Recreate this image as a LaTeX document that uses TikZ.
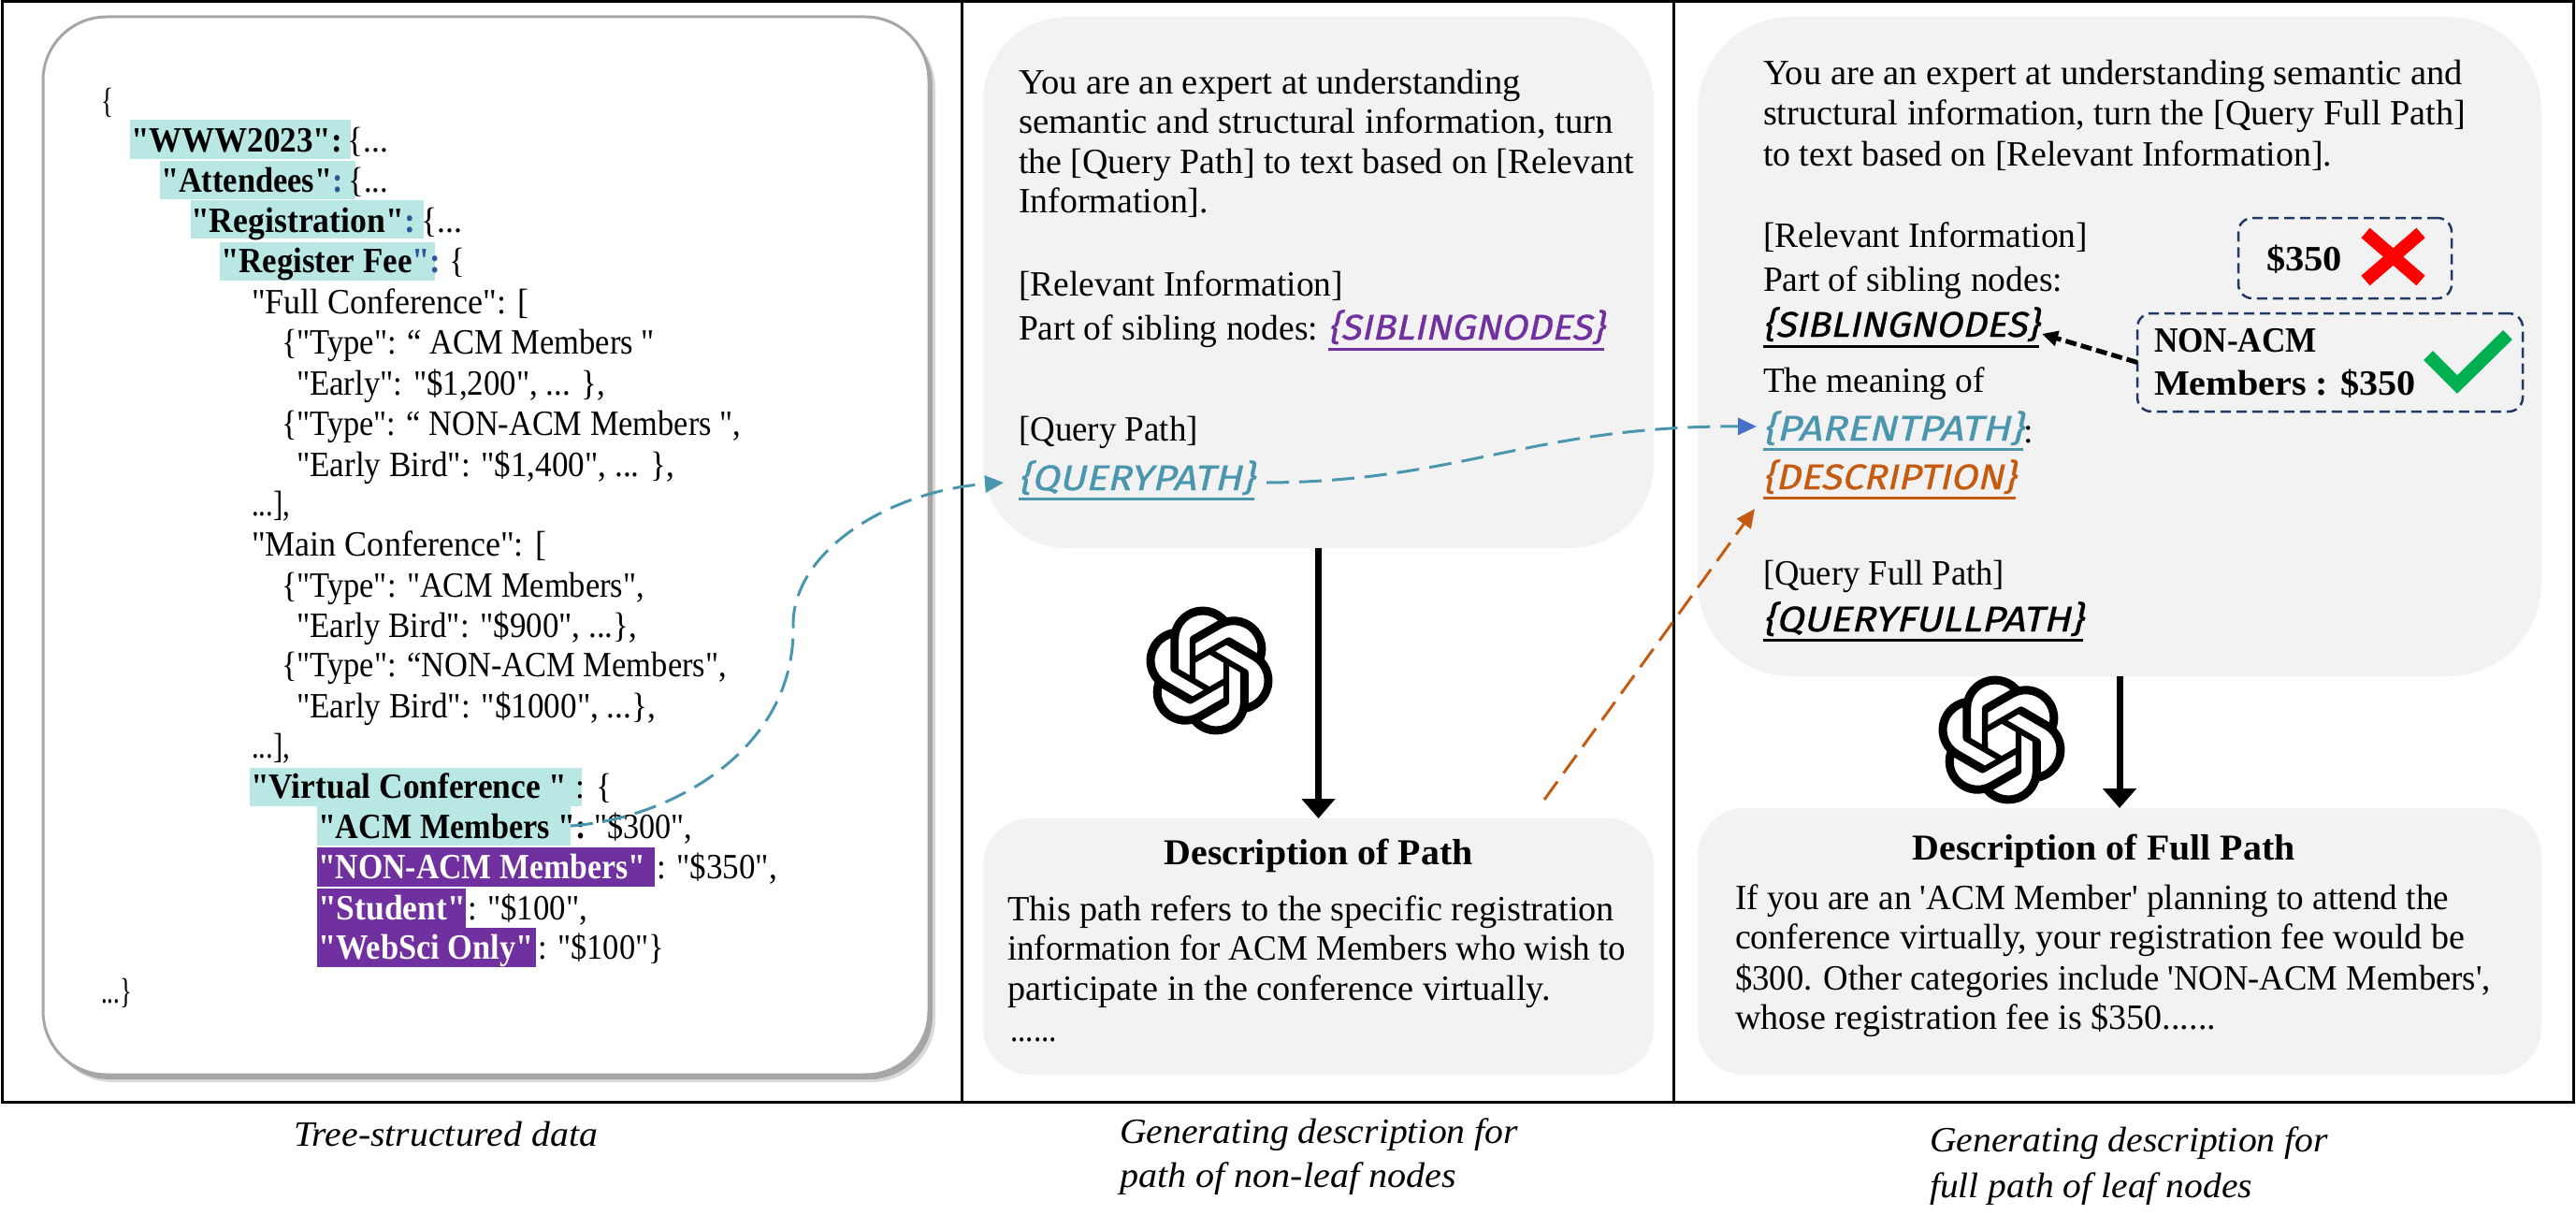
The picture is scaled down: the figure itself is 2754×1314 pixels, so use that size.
\documentclass[tikz,border=0pt]{standalone}
\usepackage{fontspec}
\setmainfont{Liberation Serif}
\newfontfamily\treefont{Liberation Serif}
\newfontfamily\handfont[FakeSlant=0.2,FakeBold=0.8]{Fira Sans}
\usetikzlibrary{arrows.meta,calc,svg.path}
\definecolor{hlteal}{HTML}{B9E8E4}
\definecolor{hlpurple}{HTML}{7030A0}
\definecolor{cardgrey}{HTML}{F2F2F2}
\definecolor{teal1}{HTML}{4A96AE}
\definecolor{orange1}{HTML}{C55A11}
\definecolor{navy1}{HTML}{203864}
\definecolor{bluehead}{HTML}{4472C4}
\definecolor{green1}{HTML}{00B050}
\definecolor{keyblue}{HTML}{2F5597}
\newcommand\fw[2]{\resizebox{#1pt}{\height}{#2}}
\newcommand\hand[2]{\resizebox{#1}{\height}{\handfont\fontsize{38}{42}\selectfont #2}}
\newcommand\gptlogo[2]{\begin{scope}[shift={(#1,#2)}]\begin{scope}[xscale=5.7,yscale=-5.7,xshift=-12pt,yshift=-12pt]
\fill[black,even odd rule] svg {M 22.2819 9.8211 a 5.9847 5.9847 0 0 0 -0.5157 -4.9108 a 6.0462 6.0462 0 0 0 -6.5098 -2.9 A 6.0651 6.0651 0 0 0 4.9807 4.1818 a 5.9847 5.9847 0 0 0 -3.9977 2.9 a 6.0462 6.0462 0 0 0 0.7427 7.0966 a 5.98 5.98 0 0 0 0.511 4.9107 a 6.051 6.051 0 0 0 6.5146 2.9001 A 5.9847 5.9847 0 0 0 13.2599 24 a 6.0557 6.0557 0 0 0 5.7718 -4.2058 a 5.9894 5.9894 0 0 0 3.9977 -2.9001 a 6.0557 6.0557 0 0 0 -0.7475 -7.0729 z M 13.2599 22.4292 a 4.4755 4.4755 0 0 1 -2.8764 -1.0408 l 0.1419 -0.0804 l 4.7783 -2.7582 a 0.7948 0.7948 0 0 0 0.3927 -0.6813 v -6.7369 l 2.02 1.1686 a 0.071 0.071 0 0 1 0.038 0.052 v 5.5826 a 4.504 4.504 0 0 1 -4.4945 4.4944 z M 3.5992 18.3038 a 4.4708 4.4708 0 0 1 -0.5346 -3.0137 l 0.142 0.0852 l 4.783 2.7582 a 0.7712 0.7712 0 0 0 0.7806 0 l 5.8428 -3.3685 v 2.3324 a 0.0804 0.0804 0 0 1 -0.0332 0.0615 L 9.74 19.9502 a 4.4992 4.4992 0 0 1 -6.1408 -1.6464 z M 2.3408 7.8956 a 4.485 4.485 0 0 1 2.3655 -1.9728 V 11.6 a 0.7664 0.7664 0 0 0 0.3879 0.6765 l 5.8144 3.3543 l -2.0201 1.1685 a 0.0757 0.0757 0 0 1 -0.071 0 l -4.8303 -2.7865 A 4.504 4.504 0 0 1 2.3408 7.872 z M 18.9371 11.7514 L 13.1038 8.364 L 15.1192 7.2 a 0.0757 0.0757 0 0 1 0.071 0 l 4.8303 2.7913 a 4.4944 4.4944 0 0 1 -0.6765 8.1042 v -5.6772 a 0.79 0.79 0 0 0 -0.407 -0.667 z M 20.9478 8.7283 l -0.142 -0.0852 l -4.7735 -2.7818 a 0.7759 0.7759 0 0 0 -0.7854 0 L 9.409 9.2297 V 6.8974 a 0.0662 0.0662 0 0 1 0.0284 -0.0615 l 4.8303 -2.7866 a 4.4992 4.4992 0 0 1 6.6802 4.66 z M 8.3065 12.863 l -2.02 -1.1638 a 0.0804 0.0804 0 0 1 -0.038 -0.0567 V 6.0742 a 4.4992 4.4992 0 0 1 7.3757 -3.4537 l -0.142 0.0805 L 8.704 5.459 a 0.7948 0.7948 0 0 0 -0.3927 0.6813 z M 9.4041 10.4976 l 2.602 -1.4998 l 2.6069 1.4998 v 2.9994 l -2.5974 1.4997 l -2.6067 -1.4997 Z};
\end{scope}\end{scope}}
\tikzset{
  every node/.style={inner sep=0pt,outer sep=0pt},
  tr/.style={anchor=base west,font=\treefont\fontsize{38}{42}\selectfont},
  trb/.style={tr,font=\treefont\bfseries\fontsize{38}{42}\selectfont},
  body/.style={anchor=base west,font=\fontsize{38}{42}\selectfont},
  capt/.style={anchor=base west,font=\itshape\fontsize{38}{42}\selectfont},
  dtitle/.style={anchor=base,font=\bfseries\fontsize{39}{44}\selectfont},
  bolt/.style={anchor=base west,font=\bfseries\fontsize{38}{42}\selectfont},
  hlt/.style={fill=hlteal,anchor=north west},
  hlp/.style={fill=hlpurple,anchor=north west},
  card/.style={fill=cardgrey,draw=none},
  dbox/.style={draw=navy1,line width=2.5pt,dash pattern=on 11pt off 6pt,rounded corners=15pt},
  hand/.style={anchor=base west},
  flow/.style={line width=7pt,-{Triangle[length=21pt,width=35pt]}},
  tealarrow/.style={teal1,line width=3pt,dash pattern=on 24pt off 11pt},
  ul/.style={line width=3pt}
}
\begin{document}
\begin{tikzpicture}[x=1pt,y=-1pt]
\useasboundingbox (0,0) rectangle (2754,1314);
% frame
\draw[line width=3pt] (2,2) rectangle (2751,1178);
\draw[line width=3pt] (1028,2) -- (1028,1178);
\draw[line width=3pt] (1789,2) -- (1789,1178);
% left card with shadow
\node[fill=black!15,minimum width=947pt,minimum height=1131pt,rounded corners=68pt] (ls2) at (526.5,591.5) {};
\node[fill=black!35,minimum width=947pt,minimum height=1131pt,rounded corners=68pt] (ls1) at (523.5,588.5) {};
\node[fill=white,draw=black!35,line width=3pt,minimum width=947pt,minimum height=1131pt,rounded corners=68pt] (lc) at (519.5,583.5) {};
% highlights
\node[hlt,minimum width=236pt,minimum height=42pt] (h1) at (139,128) {};
\node[hlt,minimum width=209pt,minimum height=41pt] (h2) at (171,172) {};
\node[hlt,minimum width=249pt,minimum height=41pt] (h3) at (204,214) {};
\node[hlt,minimum width=230pt,minimum height=41pt] (h4) at (235,259) {};
\node[hlt,minimum width=355pt,minimum height=41pt] (h5) at (267,821) {};
\node[hlt,minimum width=271pt,minimum height=42pt] (acm) at (339,862) {};
\node[hlp,minimum width=361pt,minimum height=42pt] (h7) at (339,906) {};
\node[hlp,minimum width=159pt,minimum height=42pt] (h8) at (339,950) {};
\node[hlp,minimum width=234pt,minimum height=42pt] (h9) at (339,992) {};
% tree text
\node[tr] (t0) at (108,120) {\fw{13}{\{}};
\node[trb] (t1) at (140,162) {\fw{275}{"WWW2023":\,\textmd{\{...}}};
\node[trb] (t2) at (172,205) {\fw{243}{"Attendees"\textcolor{keyblue}{:}\,\textmd{\{...}}};
\node[trb] (t3) at (204,248) {\fw{290}{"Registration"\textcolor{keyblue}{:}\,\textmd{\{...}}};
\node[trb] (t4) at (236,291) {\fw{261}{"Register Fee\textcolor{keyblue}{":}\textmd{\ \{}}};
\node[tr] (t5) at (269,335) {\fw{296}{"Full Conference": [}};
\node[tr] (t6) at (301,378) {\fw{399}{\{"Type": “ ACM Members "}};
\node[tr] (t7) at (317,422) {\fw{330}{"Early": "\$1,200", ... \},}};
\node[tr] (t8) at (301,465) {\fw{491}{\{"Type": “ NON-ACM Members ",}};
\node[tr] (t9) at (317,509) {\fw{404}{"Early Bird": "\$1,400", ... \},}};
\node[tr] (t10) at (269,551) {\fw{41}{...],}};
\node[tr] (t11) at (269,594) {\fw{315}{"Main Conference": [}};
\node[tr] (t12) at (301,638) {\fw{388}{\{"Type": "ACM Members",}};
\node[tr] (t13) at (317,681) {\fw{364}{"Early Bird": "\$900", ...\},}};
\node[tr] (t14) at (301,723) {\fw{476}{\{"Type": “NON-ACM Members",}};
\node[tr] (t15) at (317,767) {\fw{384}{"Early Bird": "\$1000", ...\},}};
\node[tr] (t16) at (269,810) {\fw{41}{...],}};
\node[trb] (t17) at (268,853) {\fw{386}{"Virtual Conference "\textmd{\ : \{}}};
\node[trb] (t18) at (340,896) {\fw{400}{"ACM Members ":\textmd{\ "\$300",}}};
\node[trb,text=white] (t19) at (340,939) {\fw{350}{"NON-ACM Members"}};
\node[tr] (t19b) at (702,939) {\fw{129}{: "\$350",}};
\node[trb,text=white] (t20) at (340,983) {\fw{158}{"Student"}};
\node[tr] (t20b) at (500,983) {\fw{128}{: "\$100",}};
\node[trb,text=white] (t21) at (340,1025) {\fw{231}{"WebSci Only"}};
\node[tr] (t21b) at (575,1025) {\fw{135}{: "\$100"\}}};
\node[tr] (t22) at (108,1072) {\fw{33}{...\}}};
% middle cards
\node[card,minimum width=717pt,minimum height=568pt,rounded corners=90pt] (mc) at (1409.5,302) {};
\node[card,minimum width=717pt,minimum height=274pt,rounded corners=50pt] (md) at (1409.5,1012) {};
\node[body] (m1) at (1089,100) {\fw{537}{You are an expert at understanding}};
\node[body] (m2) at (1089,142) {\fw{636}{semantic and structural information, turn}};
\node[body] (m3) at (1089,185) {\fw{658}{the [Query Path] to text based on [Relevant}};
\node[body] (m4) at (1089,227) {\fw{203}{Information].}};
\node[body] (m5) at (1089,316) {\fw{347}{[Relevant Information]}};
\node[body] (m6) at (1089,363) {\fw{320}{Part of sibling nodes:}};
\node[hand,text=hlpurple] (msib) at (1420,363) {\hand{295pt}{\{SIBLINGNODES\}}};
\draw[ul,hlpurple] ([yshift=-10pt]msib.base west) -- ([yshift=-10pt]msib.base east);
\node[body] (m7) at (1089,471) {\fw{192}{[Query Path]}};
\node[hand,text=teal1] (qp) at (1089,524) {\hand{252pt}{\{QUERYPATH\}}};
\draw[ul,teal1] ([yshift=-9pt]qp.base west) -- ([yshift=-9pt]qp.base east);
\node[dtitle] (mdt) at (1409.5,924) {\fw{330}{Description of Path}};
\node[body] (md1) at (1077,984) {\fw{649}{This path refers to the specific registration}};
\node[body] (md2) at (1077,1026) {\fw{661}{information for ACM Members who wish to}};
\node[body] (md3) at (1077,1069) {\fw{581}{participate in the conference virtually.}};
\node[body] (md4) at (1080,1113) {\fw{50}{......}};
% right cards
\node[card,minimum width=902pt,minimum height=705pt,rounded corners=100pt] (rc) at (2266,370.5) {};
\node[card,minimum width=902pt,minimum height=285pt,rounded corners=50pt] (rd) at (2266,1006.5) {};
\node[body] (r1) at (1885,91) {\fw{748}{You are an expert at understanding semantic and}};
\node[body] (r2) at (1885,133) {\fw{751}{structural information, turn the [Query Full Path]}};
\node[body] (r3) at (1885,177) {\fw{608}{to text based on [Relevant Information].}};
\node[body] (r4) at (1885,264) {\fw{347}{[Relevant Information]}};
\node[body] (r5) at (1885,311) {\fw{320}{Part of sibling nodes:}};
\node[hand,text=black] (rsib) at (1885,360) {\hand{295pt}{\{SIBLINGNODES\}}};
\draw[ul,black] ([yshift=-10pt]rsib.base west) -- ([yshift=-10pt]rsib.base east);
\node[body] (r6) at (1885,419) {\fw{237}{The meaning of}};
\node[hand,text=teal1] (rpar) at (1885,471) {\hand{278pt}{\{PARENTPATH\}}};
\draw[ul,teal1] ([yshift=-9pt]rpar.base west) -- ([yshift=-9pt]rpar.base east);
\node[body] (rcolon) at (2163,473) {:};
\node[hand,text=orange1] (rdes) at (1885,523) {\hand{270pt}{\{DESCRIPTION\}}};
\draw[ul,orange1] ([yshift=-9pt]rdes.base west) -- ([yshift=-9pt]rdes.base east);
\node[body] (r7) at (1885,625) {\fw{258}{[Query Full Path]}};
\node[hand,text=black] (rq) at (1885,675) {\hand{342pt}{\{QUERYFULLPATH\}}};
\draw[ul,black] ([yshift=-9pt]rq.base west) -- ([yshift=-9pt]rq.base east);
\node[dtitle] (rdt) at (2249,919) {\fw{409}{Description of Full Path}};
\node[body] (rd1) at (1855,972) {\fw{763}{If you are an \textquotesingle ACM Member\textquotesingle{} planning to attend the}};
\node[body] (rd2) at (1855,1014) {\fw{780}{conference virtually, your registration fee would be}};
\node[body] (rd3) at (1855,1058) {\fw{808}{\$300. Other categories include \textquotesingle NON-ACM Members\textquotesingle,}};
\node[body] (rd4) at (1855,1100) {\fw{514}{whose registration fee is \$350......}};
% dashed boxes
\node[dbox,minimum width=228pt,minimum height=86pt] (wrong) at (2507,276) {};
\node[dbox,minimum width=412pt,minimum height=105pt] (right) at (2491,387.5) {};
\node[bolt] (wv) at (2423,289) {\fw{81}{\$350}};
\node[bolt] (rv1) at (2303,376) {\fw{174}{NON-ACM}};
\node[bolt] (rv2) at (2303,422) {\fw{280}{Members : \$350}};
\draw[red,line width=14pt] (2529,249) -- (2588,300) (2588,249) -- (2529,300);
\draw[green1,line width=14pt,line join=miter] (2596,380) -- (2627,411) -- (2681,358);
% flow arrows
\draw[flow] (mc.south) -- (md.north);
\draw[flow] (rc.south) -- (rd.north);
\gptlogo{1293}{717}
\gptlogo{2140}{791}
% dashed connectors
\draw[tealarrow,-{Triangle[length=20pt,width=18pt]}] (acm.east) .. controls (720,875) and (850,800) .. (848,670) .. controls (846,590) and (950,525) .. ([xshift=-16pt,yshift=8pt]qp.base west);
\draw[tealarrow,-{Triangle[length=20pt,width=18pt,color=bluehead]}] ([xshift=13pt,yshift=8pt]qp.base east) .. controls (1560,515) and (1640,455) .. ([xshift=-7pt,yshift=15pt]rpar.base west);
\coordinate (ostart) at (1651,855);
\coordinate (oend) at (1876,544);
\draw[orange1,line width=3pt,dash pattern=on 24pt off 11pt,-{Triangle[length=20pt,width=18pt]}] (ostart) -- (oend);
\draw[line width=5pt,dash pattern=on 12pt off 5pt,-{Triangle[length=17pt,width=16pt]}] (right.west) -- ([xshift=3pt,yshift=3pt]rsib.base east);
% captions
\node[capt] (c1) at (314,1225) {\fw{325}{Tree-structured data}};
\node[capt] (c2) at (1197,1222) {\fw{426}{Generating description for}};
\node[capt] (c3) at (1197,1269) {\fw{360}{path of non-leaf nodes}};
\node[capt] (c4) at (2063,1231) {\fw{426}{Generating description for}};
\node[capt] (c5) at (2063,1280) {\fw{345}{full path of leaf nodes}};
\end{tikzpicture}
\end{document}
